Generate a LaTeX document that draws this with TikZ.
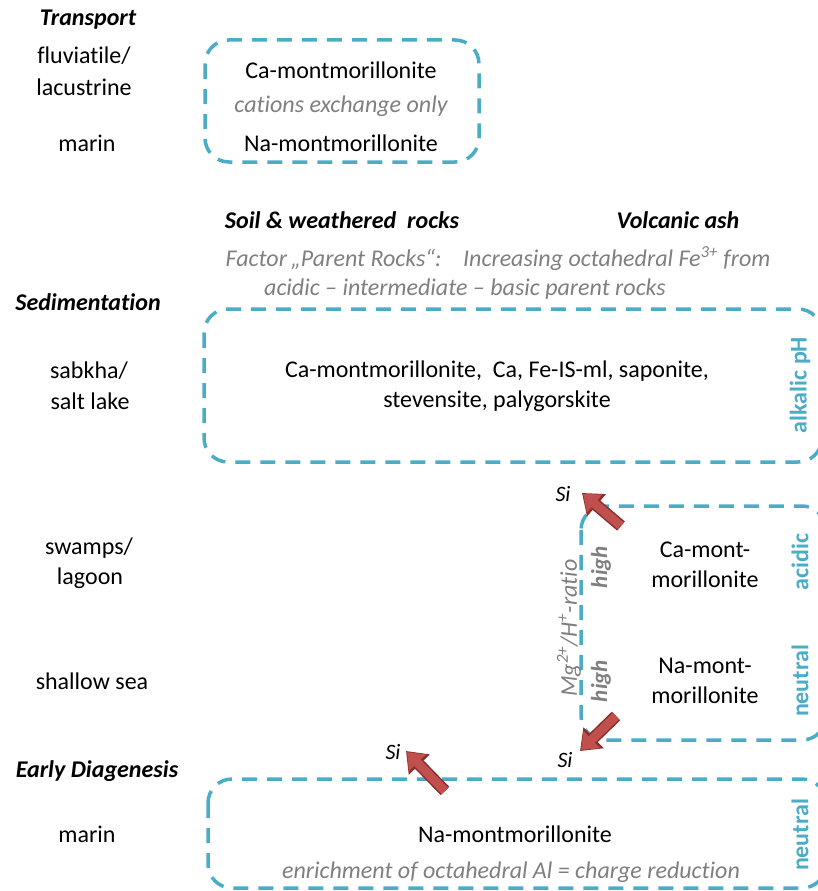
\documentclass[tikz,border=0pt]{standalone}
\usepackage{fontspec}
\setmainfont{Carlito}[Ligatures=NoCommon]
\usetikzlibrary{arrows.meta}
\definecolor{boxblue}{HTML}{4BACC6}
\definecolor{notegray}{HTML}{7F7F7F}
\definecolor{arrowred}{HTML}{C0504D}
\definecolor{arrowdark}{HTML}{8C2D2A}
\begin{document}
\begin{tikzpicture}[x=1pt,y=-1pt,
  every node/.style={font=\fontsize{24}{30}\selectfont, inner sep=0pt, align=center},
  dashbox/.style={draw=boxblue, line width=3.5pt, dash pattern=on 15pt off 10pt, rounded corners=24pt},
  head/.style={font=\fontsize{24}{30}\selectfont\bfseries\itshape},
  note/.style={text=notegray, font=\fontsize{24}{30}\selectfont\itshape},
  side/.style={text=boxblue, font=\fontsize{24}{30}\selectfont\bfseries, rotate=90},
  hilabel/.style={text=notegray, font=\fontsize{23}{28}\selectfont\bfseries\itshape, rotate=90},
  silabel/.style={font=\fontsize{22}{26}\selectfont\itshape},
  arrowback/.style={draw=arrowdark, line width=12pt, -{Triangle[length=19pt,width=28pt]}},
  arrowfront/.style={draw=arrowred, line width=9pt, -{Triangle[length=15pt,width=23pt]}, shorten >=1.5pt}
]
\useasboundingbox (0,0) rectangle (817,891);

% stage headings and environments
\node[head] (transport) at (88,20) {Transport};
\node (fluv1) at (84,56) {fluviatile/};
\node (fluv2) at (84,87) {lacustrine};
\node (marin1) at (87,143) {marin};

\node[head] (sed) at (88,302) {Sedimentation};
\node (sab1) at (89,371) {sabkha/};
\node (sab2) at (90,401) {salt lake};
\node (swa1) at (89,548) {swamps/};
\node (swa2) at (90,578) {lagoon};
\node (shallow) at (92,681) {shallow sea};

\node[head] (diag) at (97,771) {Early Diagenesis};
\node (marin2) at (87,834) {marin};

% transport box
\draw[dashbox] (205,40) rectangle (479,162);
\node (ca1) at (341,70) {Ca-montmorillonite};
\node[note] (cex) at (341,106) {cations exchange only};
\node (na1) at (341,143) {Na-montmorillonite};

% source materials
\node[head] (soil) at (342,220) {Soil \& weathered\ \ rocks};
\node[head] (ash) at (678,220) {Volcanic ash};
\node[note] (fac1) at (498,259) {Factor\,\char"201E Parent Rocks\char"201C:\ \ \ \ Increasing octahedral Fe\textsuperscript{3+} from};
\node[note] (fac2) at (465,289) {acidic -- intermediate -- basic parent rocks};

% sedimentation: alkaline box
\draw[dashbox] (204,309) rectangle (822,462);
\node (alk1) at (497,371) {Ca-montmorillonite,\ \ Ca, Fe-IS-ml, saponite,};
\node (alk2) at (497,401) {stevensite, palygorskite};
\node[side] (alkph) at (800,385) {alkalic pH};

% sedimentation: acidic / neutral box
\draw[dashbox] (581,506) rectangle (826,740);
\node (camont1) at (705,550) {Ca-mont-};
\node (camont2) at (705,579) {morillonite};
\node (namont1) at (705,666) {Na-mont-};
\node (namont2) at (705,695) {morillonite};
\node[side] (acidic) at (800,562) {acidic};
\node[side] (neutral1) at (800,681) {neutral};
\node[hilabel] (high1) at (601,567) {high};
\node[hilabel] (high2) at (601,681) {high};
\node[note, rotate=90] (ratio) at (569,628) {Mg\textsuperscript{2+}/H\textsuperscript{+}-ratio};

% early diagenesis box
\draw[dashbox] (208,779) rectangle (826,888);
\node (na2) at (515,834) {Na-montmorillonite};
\node[note] (enr) at (511,872) {enrichment of octahedral Al = charge reduction};
\node[side] (neutral2) at (800,835) {neutral};

% silica release
\node[silabel] (si1) at (563,494) {Si};
\node[silabel] (si2) at (565,760) {Si};
\node[silabel] (si3) at (393,752) {Si};

\coordinate (t1) at (621,526);
\coordinate (h1) at (582,493);
\coordinate (t2) at (616,716);
\coordinate (h2) at (580,751);
\coordinate (t3) at (445,791);
\coordinate (h3) at (406,751);

\foreach \t/\h in {t1/h1, t2/h2, t3/h3}{
  \draw[arrowback] (\t) -- (\h);
  \draw[arrowfront] (\t) -- (\h);
}
\end{tikzpicture}
\end{document}
